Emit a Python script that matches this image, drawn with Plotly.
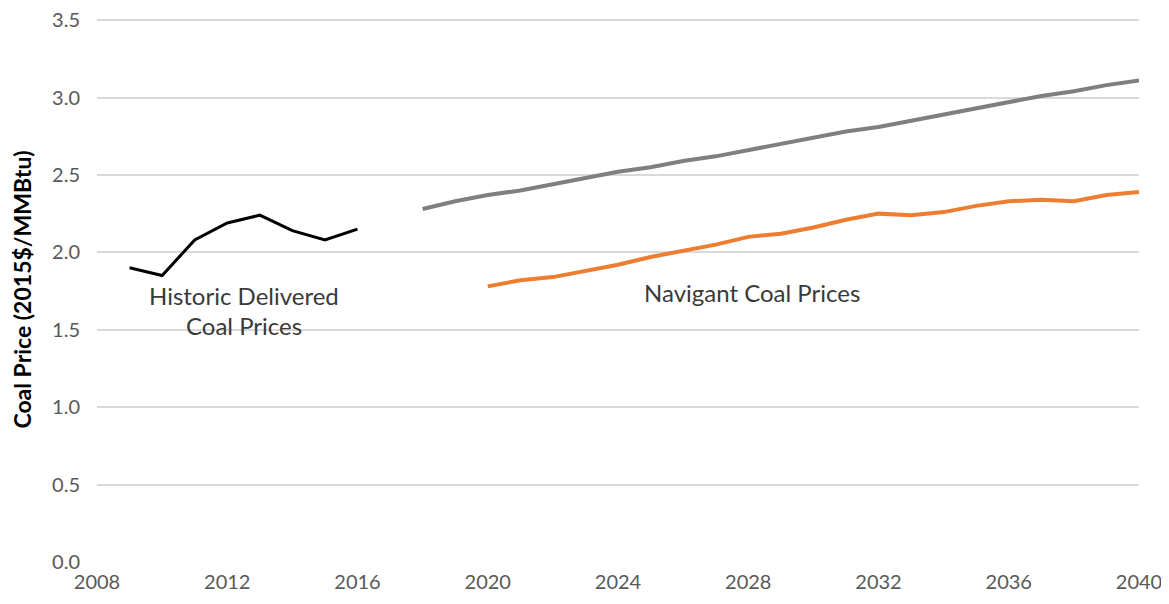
import plotly.graph_objects as go

# historic delivered coal prices
hist_years = [2009, 2010, 2011, 2012, 2013, 2014, 2015, 2016]
hist_price = [1.90, 1.85, 2.08, 2.19, 2.24, 2.14, 2.08, 2.15]

# grey projection
grey_years = list(range(2018, 2041))
grey_price = [2.28, 2.33, 2.37, 2.40, 2.44, 2.48, 2.52, 2.55, 2.59, 2.62, 2.66, 2.70,
              2.74, 2.78, 2.81, 2.85, 2.89, 2.93, 2.97, 3.01, 3.04, 3.08, 3.11]

# navigant coal prices
nav_years = list(range(2020, 2041))
nav_price = [1.78, 1.82, 1.84, 1.88, 1.92, 1.97, 2.01, 2.05, 2.10, 2.12, 2.16, 2.21,
             2.25, 2.24, 2.26, 2.30, 2.33, 2.34, 2.33, 2.37, 2.39]

x_ticks = list(range(2008, 2041, 4))
y_ticks = [0, 0.5, 1.0, 1.5, 2.0, 2.5, 3.0, 3.5]

FONT = 'Lato, Open Sans, sans-serif'

fig = go.Figure()
fig.add_trace(go.Scatter(x=hist_years, y=hist_price, mode='lines',
                         line=dict(color='#000000', width=3), showlegend=False))
fig.add_trace(go.Scatter(x=grey_years, y=grey_price, mode='lines',
                         line=dict(color='#7f7f7f', width=4), showlegend=False))
fig.add_trace(go.Scatter(x=nav_years, y=nav_price, mode='lines',
                         line=dict(color='#ed7d31', width=4), showlegend=False))

txt = dict(family=FONT, size=24, color='#3a3a3a')
fig.add_annotation(x=2012.5, y=1.72, text='Historic Delivered', showarrow=False, font=txt)
fig.add_annotation(x=2012.5, y=1.53, text='Coal Prices', showarrow=False, font=txt)
fig.add_annotation(x=2028.1, y=1.74, text='Navigant Coal Prices', showarrow=False, font=txt)

fig.update_xaxes(range=[2008, 2040], tickvals=x_ticks, showgrid=False,
                 showline=False, zeroline=False, ticks='', ticklabelstandoff=6,
                 ticklabeloverflow='allow',
                 tickfont=dict(family=FONT, size=20, color='#595959'))
fig.update_yaxes(range=[0, 3.52], tickvals=y_ticks, tickformat='.1f',
                 showgrid=True, gridcolor='#d9d9d9', gridwidth=1.5, zeroline=False,
                 ticks='', ticklabelstandoff=16, ticklabeloverflow='allow',
                 tickfont=dict(family=FONT, size=20, color='#595959'),
                 title=dict(text='<b>Coal Price (2015$/MMBtu)</b>', standoff=14,
                            font=dict(family=FONT, size=23, color='#000000')))

# page body has an 8px margin, so the figure is drawn a bit smaller than the window
fig.update_layout(width=1161, height=596,
                  margin=dict(l=89, r=30, t=9, b=42, autoexpand=False),
                  plot_bgcolor='white', paper_bgcolor='white')

fig.write_html("out.html")
